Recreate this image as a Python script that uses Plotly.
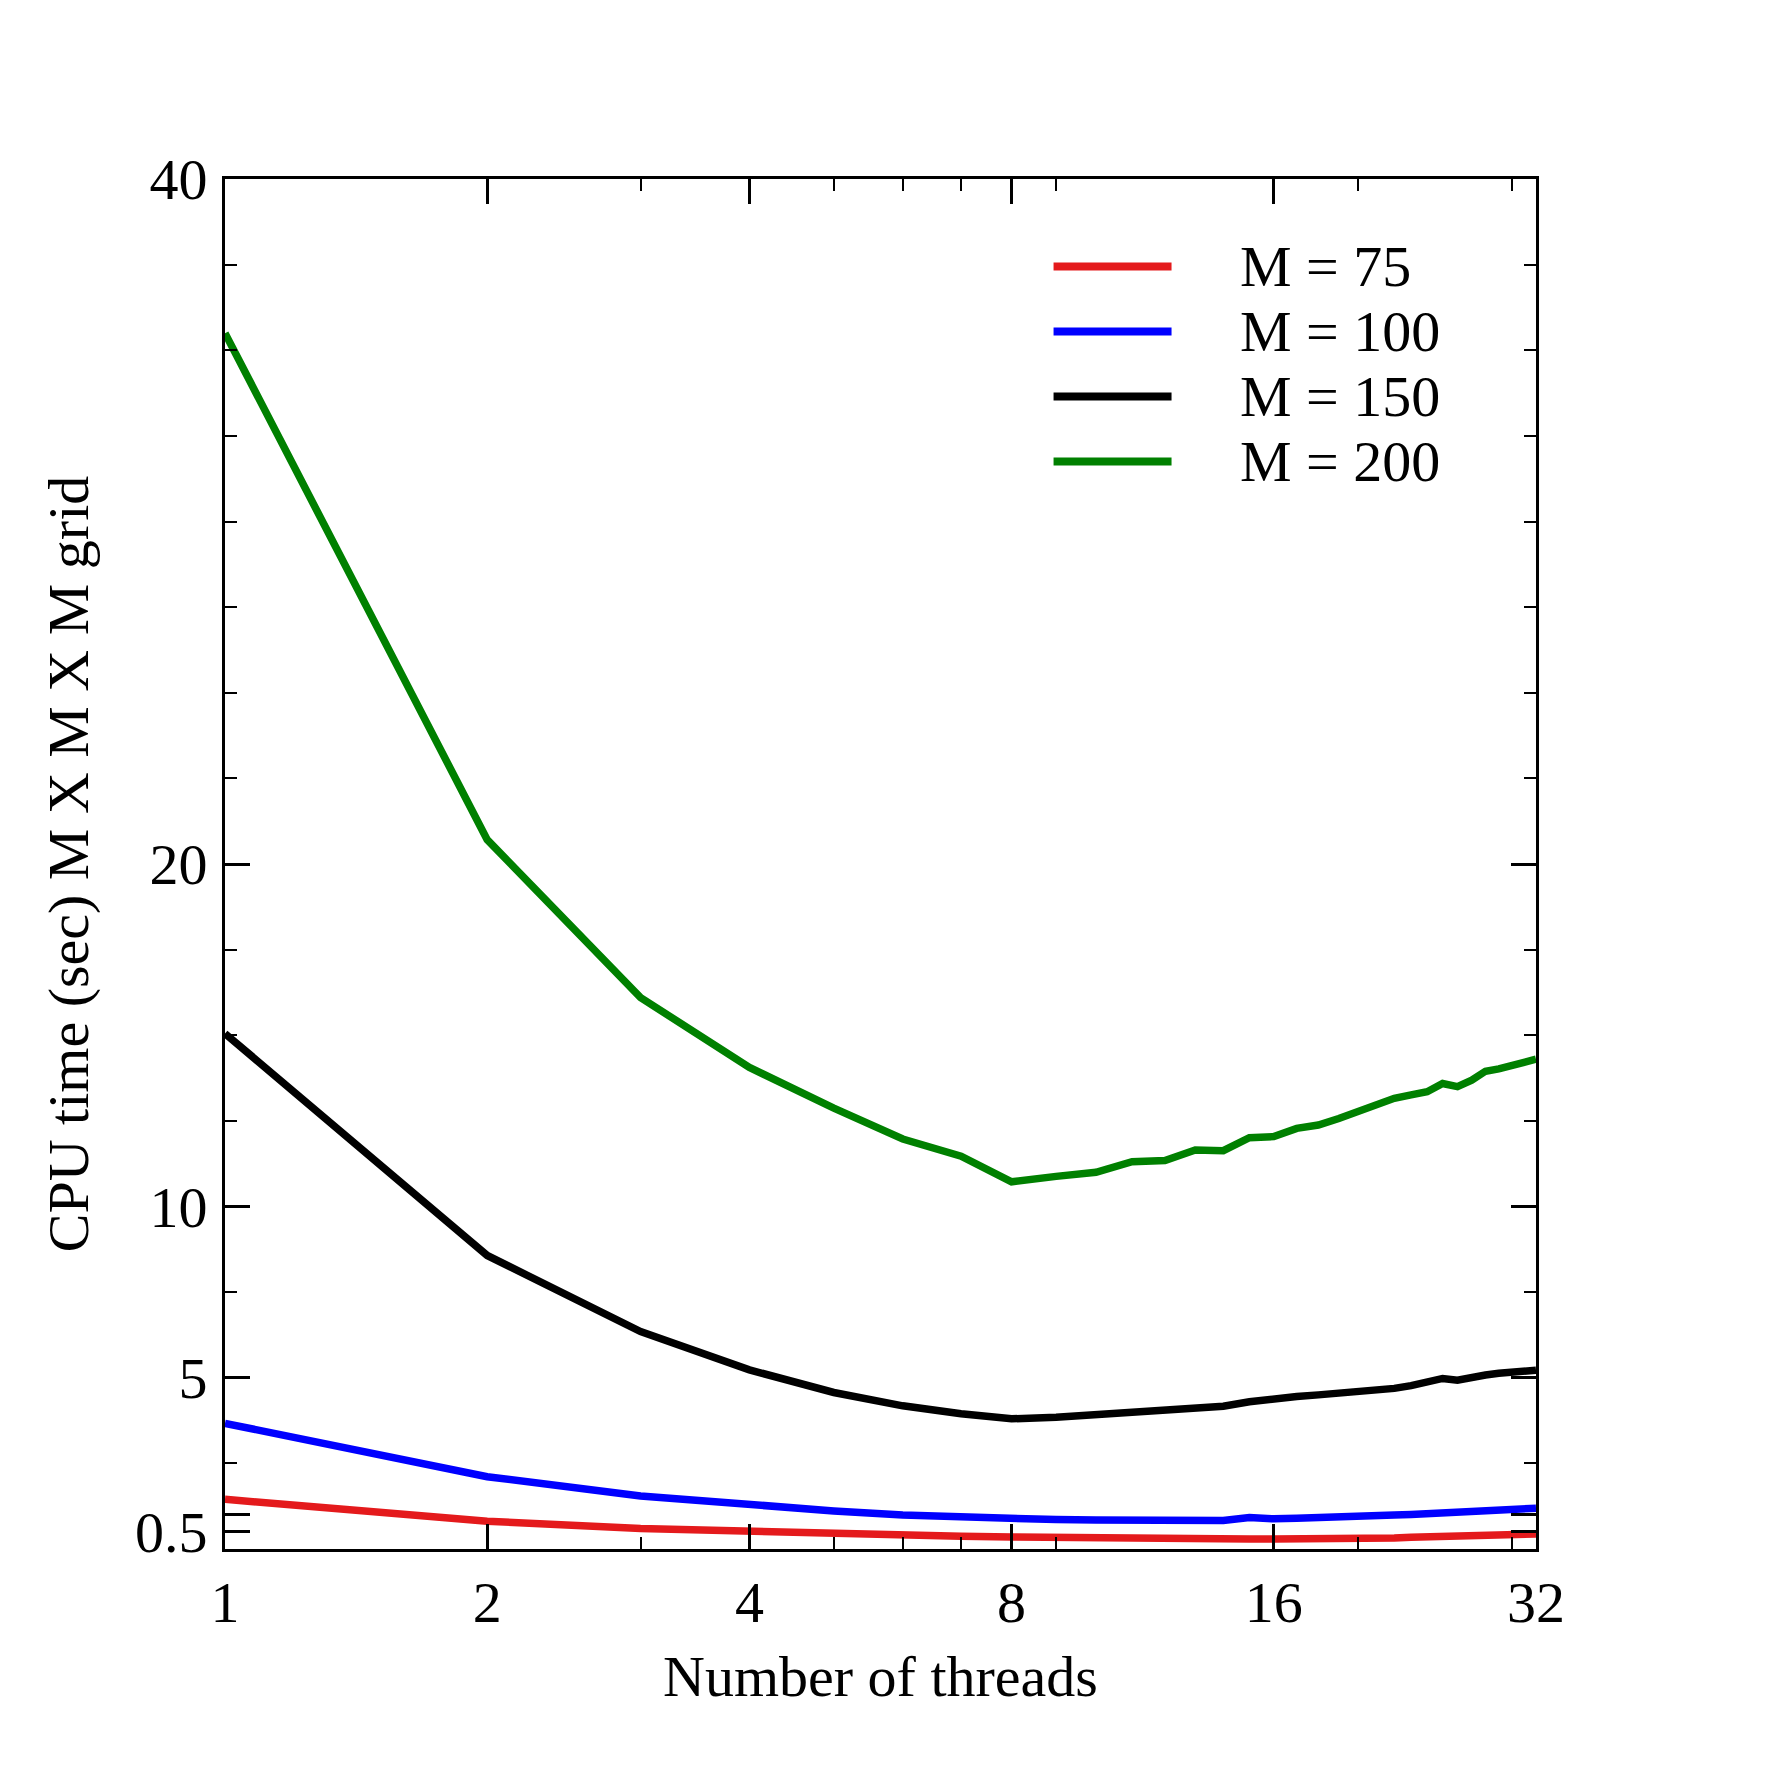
import math
import plotly.graph_objects as go

# data
threads = list(range(1, 33))

m75 = [1.45, 0.81, 0.60, 0.51, 0.45, 0.40, 0.37, 0.35, 0.33, 0.32, 0.31, 0.30, 0.30, 0.30, 0.29, 0.29,
       0.29, 0.28, 0.29, 0.30, 0.31, 0.32, 0.34, 0.35, 0.36, 0.37, 0.38, 0.39, 0.40, 0.41, 0.42, 0.44]
m100 = [3.67, 2.11, 1.55, 1.29, 1.11, 0.99, 0.93, 0.87, 0.86, 0.85, 0.84, 0.83, 0.83, 0.83, 0.92, 0.88,
        0.90, 0.91, 0.93, 0.95, 0.97, 0.99, 1.01, 1.03, 1.05, 1.07, 1.09, 1.11, 1.13, 1.15, 1.17, 1.19]
m150 = [15.05, 8.57, 6.35, 5.23, 4.57, 4.18, 3.95, 3.80, 3.85, 3.92, 3.98, 4.04, 4.10, 4.17, 4.30, 4.35,
        4.45, 4.50, 4.55, 4.58, 4.60, 4.69, 4.77, 4.85, 4.98, 4.93, 5.02, 5.08, 5.13, 5.18, 5.19, 5.22]
m200 = [35.5, 20.71, 16.1, 14.06, 12.87, 11.97, 11.47, 10.72, 10.88, 11.0, 11.31, 11.34, 11.65, 11.63, 12.01, 12.04,
        12.28, 12.38, 12.57, 12.77, 12.96, 13.16, 13.26, 13.35, 13.59, 13.50, 13.69, 13.95, 14.02, 14.10, 14.2, 14.30]

series_names = ["M = 75", "M = 100", "M = 150", "M = 200"]
series_colors = ["#e41a1c", "#0000ff", "#000000", "#008000"]

x_ticks = [1, 2, 4, 8, 16, 32]
x_minor = [3, 5, 6, 7, 9, 20, 30]
y_ticks = [0.5, 1, 5, 10, 20, 40]
y_ticktext = ["0.5", "", "5", "10", "20", "40"]
y_minor = [2.5, 7.5, 12.5, 15, 17.5, 22.5, 25, 27.5, 30, 32.5, 35, 37.5]

FONT = "Liberation Serif, Times New Roman, serif"
FS = 58

fig = go.Figure()
for name, ys, col in zip(series_names, [m75, m100, m150, m200], series_colors):
    fig.add_trace(go.Scatter(x=threads, y=ys, mode="lines", name=name,
                             line=dict(color=col, width=7.5), showlegend=False))

# hand-made legend (long line keys, like the original)
for i, (name, col) in enumerate(zip(series_names, series_colors)):
    yp = (1547.4 - (265 + 65 * i)) / 1370.0
    fig.add_shape(type="line", xref="paper", yref="paper", x0=0.632, x1=0.722, y0=yp, y1=yp,
                  line=dict(color=col, width=8))
    fig.add_annotation(xref="paper", yref="paper", x=0.7727, y=yp, text=name, showarrow=False,
                       xanchor="left", yanchor="middle", font=dict(size=FS, color="black", family=FONT))

axis_common = dict(showgrid=False, zeroline=False, showline=True, linewidth=3, linecolor="black",
                   mirror="ticks", ticks="inside", ticklen=25, tickwidth=3, tickcolor="black",
                   tickfont=dict(size=FS, color="black", family=FONT))

fig.update_xaxes(type="log", range=[0, math.log10(32)], tickmode="array", tickvals=x_ticks,
                 ticktext=[str(v) for v in x_ticks], ticklabelstandoff=0,
                 minor=dict(tickmode="array", tickvals=x_minor, ticks="inside", ticklen=12,
                            tickwidth=2, tickcolor="black", showgrid=False),
                 title=dict(text="Number of threads", standoff=22,
                            font=dict(size=FS, color="black", family=FONT)),
                 **axis_common)
fig.update_yaxes(range=[0, 40], tickmode="array", tickvals=y_ticks, ticktext=y_ticktext,
                 ticklabelstandoff=3,
                 minor=dict(tickmode="array", tickvals=y_minor, ticks="inside", ticklen=12,
                            tickwidth=2, tickcolor="black", showgrid=False),
                 title=dict(text="CPU time (sec) M X M X M grid", standoff=28,
                            font=dict(size=FS, color="black", family=FONT)),
                 **axis_common)

fig.update_layout(width=1771, height=1771, plot_bgcolor="white", paper_bgcolor="white",
                  margin=dict(l=217, r=243, t=171, b=230), showlegend=False,
                  font=dict(family=FONT, color="black"))

fig.write_html("out.html")
